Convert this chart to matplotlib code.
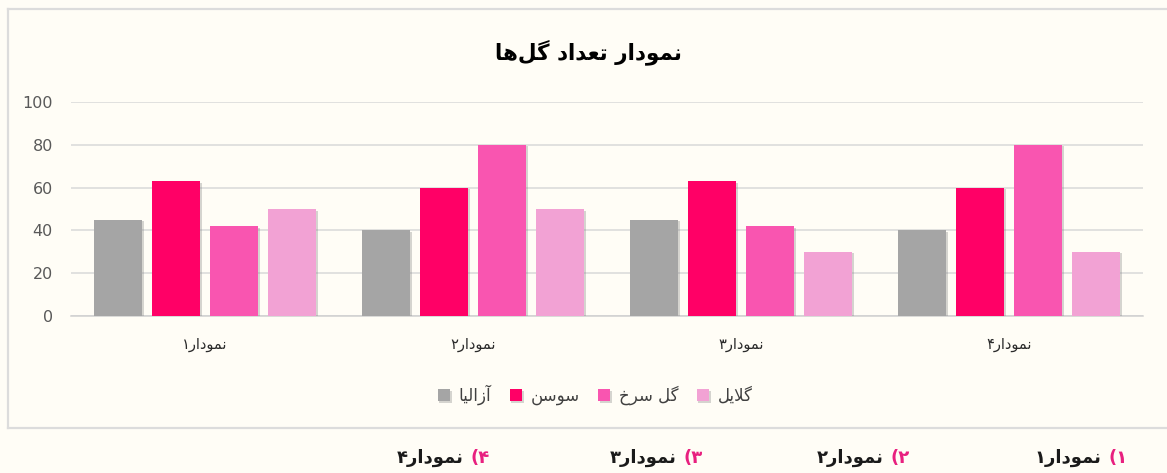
import matplotlib
matplotlib.use("Agg")
import matplotlib.pyplot as plt
import matplotlib.patheffects as pe
import numpy as np

# ---------------- data ----------------
title = "نمودار تعداد گل‌ها"
categories = ["نمودار۱", "نمودار۲", "نمودار۳", "نمودار۴"]
series_names = ["آزالیا", "سوسن", "گل سرخ", "گلایل"]
azalea = [45, 40, 45, 40]
lily = [63, 60, 63, 60]
rose = [42, 80, 42, 80]
gladiolus = [50, 50, 30, 30]
series_colors = ["#a5a5a5", "#ff0066", "#f955b0", "#f2a2d4"]
yticks = [0, 20, 40, 60, 80, 100]
option_nums = ["۱)", "۲)", "۳)", "۴)"]
option_texts = ["نمودار۱", "نمودار۲", "نمودار۳", "نمودار۴"]

# ---------------- minimal Arabic/Persian shaping ----------------
FORMS = {  # iso, fin, ini, med
    'ا': ('\uFE8D', '\uFE8E', None, None),
    'آ': ('\uFE81', '\uFE82', None, None),
    'ب': ('\uFE8F', '\uFE90', '\uFE91', '\uFE92'),
    'ت': ('\uFE95', '\uFE96', '\uFE97', '\uFE98'),
    'خ': ('\uFEA5', '\uFEA6', '\uFEA7', '\uFEA8'),
    'د': ('\uFEA9', '\uFEAA', None, None),
    'ر': ('\uFEAD', '\uFEAE', None, None),
    'ز': ('\uFEAF', '\uFEB0', None, None),
    'س': ('\uFEB1', '\uFEB2', '\uFEB3', '\uFEB4'),
    'ع': ('\uFEC9', '\uFECA', '\uFECB', '\uFECC'),
    'ل': ('\uFEDD', '\uFEDE', '\uFEDF', '\uFEE0'),
    'م': ('\uFEE1', '\uFEE2', '\uFEE3', '\uFEE4'),
    'ن': ('\uFEE5', '\uFEE6', '\uFEE7', '\uFEE8'),
    'ه': ('\uFEE9', '\uFEEA', '\uFEEB', '\uFEEC'),
    'و': ('\uFEED', '\uFEEE', None, None),
    'ی': ('\uFBFC', '\uFBFD', '\uFBFE', '\uFBFF'),
    'گ': ('\uFB92', '\uFB93', '\uFB94', '\uFB95'),
    'ک': ('\uFB8E', '\uFB8F', '\uFB90', '\uFB91'),
    'LA': ('\uFEFB', '\uFEFC', None, None),
    'LAA': ('\uFEF5', '\uFEF6', None, None),
}


def jtype(t):
    if t not in FORMS:
        return 'U'
    return 'D' if FORMS[t][2] is not None else 'R'


def shape(s):
    toks = []
    i = 0
    while i < len(s):
        if s[i] == 'ل' and i + 1 < len(s) and s[i + 1] in ('ا', 'آ'):
            toks.append('LA' if s[i + 1] == 'ا' else 'LAA')
            i += 2
        else:
            toks.append(s[i])
            i += 1
    out = []
    for k, t in enumerate(toks):
        jt = jtype(t)
        if jt == 'U':
            if t != '\u200c':
                out.append(t)
            continue
        prev_j = k > 0 and jtype(toks[k - 1]) == 'D'
        next_j = jt == 'D' and k + 1 < len(toks) and jtype(toks[k + 1]) in ('D', 'R')
        f = FORMS[t]
        if prev_j and next_j:
            out.append(f[3])
        elif prev_j:
            out.append(f[1])
        elif next_j:
            out.append(f[2])
        else:
            out.append(f[0])
    vis = ''.join(reversed(out))
    mirror = {'(': ')', ')': '('}
    return ''.join(mirror.get(c, c) for c in vis)


plt.rcParams['font.family'] = ['DejaVu Sans']

W, H = 1167, 473
fig = plt.figure(figsize=(W / 100, H / 100), dpi=100)
fig.patch.set_facecolor('#fffdf6')

# chart frame
fig.add_artist(plt.Line2D([8 / W, 8 / W], [1 - 9 / H, 1 - 428 / H], color='#dcdcdc', lw=1.6))
fig.add_artist(plt.Line2D([8 / W, 1.0], [1 - 9 / H, 1 - 9 / H], color='#dcdcdc', lw=1.6))
fig.add_artist(plt.Line2D([8 / W, 1.0], [1 - 428 / H, 1 - 428 / H], color='#dcdcdc', lw=1.6))

ax = fig.add_axes([71 / W, 1 - 316 / H, (1143 - 71) / W, (316 - 102) / H])
ax.set_facecolor('none')

x = np.arange(len(categories))
data = [azalea, lily, rose, gladiolus]
bw = 0.18
step = 0.2165
shadow = [pe.SimplePatchShadow(offset=(1.2, -1.2), shadow_rgbFace='#888888', alpha=0.35), pe.Normal()]
handles = []
for i, (vals, col, name) in enumerate(zip(data, series_colors, series_names)):
    b = ax.bar(x + (i - 1.5) * step, vals, width=bw, color=col, zorder=3,
               label=shape(name))
    for p in b.patches:
        p.set_path_effects(shadow)
    handles.append(b)

ax.set_xlim(-0.5, len(categories) - 0.5)
ax.set_ylim(0, 100)
ax.set_yticks(yticks)
ax.set_yticklabels([str(v) for v in yticks])
ax.set_xticks(x)
ax.set_xticklabels([shape(c) for c in categories])
ax.tick_params(axis='y', length=0, pad=13, labelsize=11.5, labelcolor='#595959')
ax.tick_params(axis='x', length=0, pad=15, labelsize=10.5, labelcolor='#2a2a2a')
ax.grid(axis='y', color='#d9d9d9', lw=1.1, zorder=0)
for s in ['top', 'right', 'left']:
    ax.spines[s].set_visible(False)
ax.spines['bottom'].set_color('#d0d0d0')
ax.spines['bottom'].set_linewidth(1.1)

fig.text(588 / W, 1 - 52 / H, shape(title), ha='center', va='center',
         fontsize=15.5, fontweight='bold', color='black')

leg = fig.legend(handles=handles, loc='center', bbox_to_anchor=(595 / W, 1 - 395 / H),
                 ncol=4, frameon=False, fontsize=12, handlelength=0.75, handleheight=0.75,
                 handletextpad=0.5, columnspacing=1.1)
for t in leg.get_texts():
    t.set_color('#404040')

# answer options row
right_edges = [1128, 910, 703, 490]
fig.canvas.draw()
rend = fig.canvas.get_renderer()
for num, txt, xr in zip(option_nums, option_texts, right_edges):
    tp = fig.text(xr / W, 1 - 458 / H, shape(num), ha='right', va='center',
                  fontsize=13, fontweight='bold', color='#e8207f')
    bb = tp.get_window_extent(renderer=rend)
    fig.text((bb.x0 - 7) / W, 1 - 458 / H, shape(txt), ha='right', va='center',
             fontsize=13, fontweight='bold', color='#1a1a1a')

fig.savefig('out.png', dpi=100, facecolor=fig.get_facecolor())
